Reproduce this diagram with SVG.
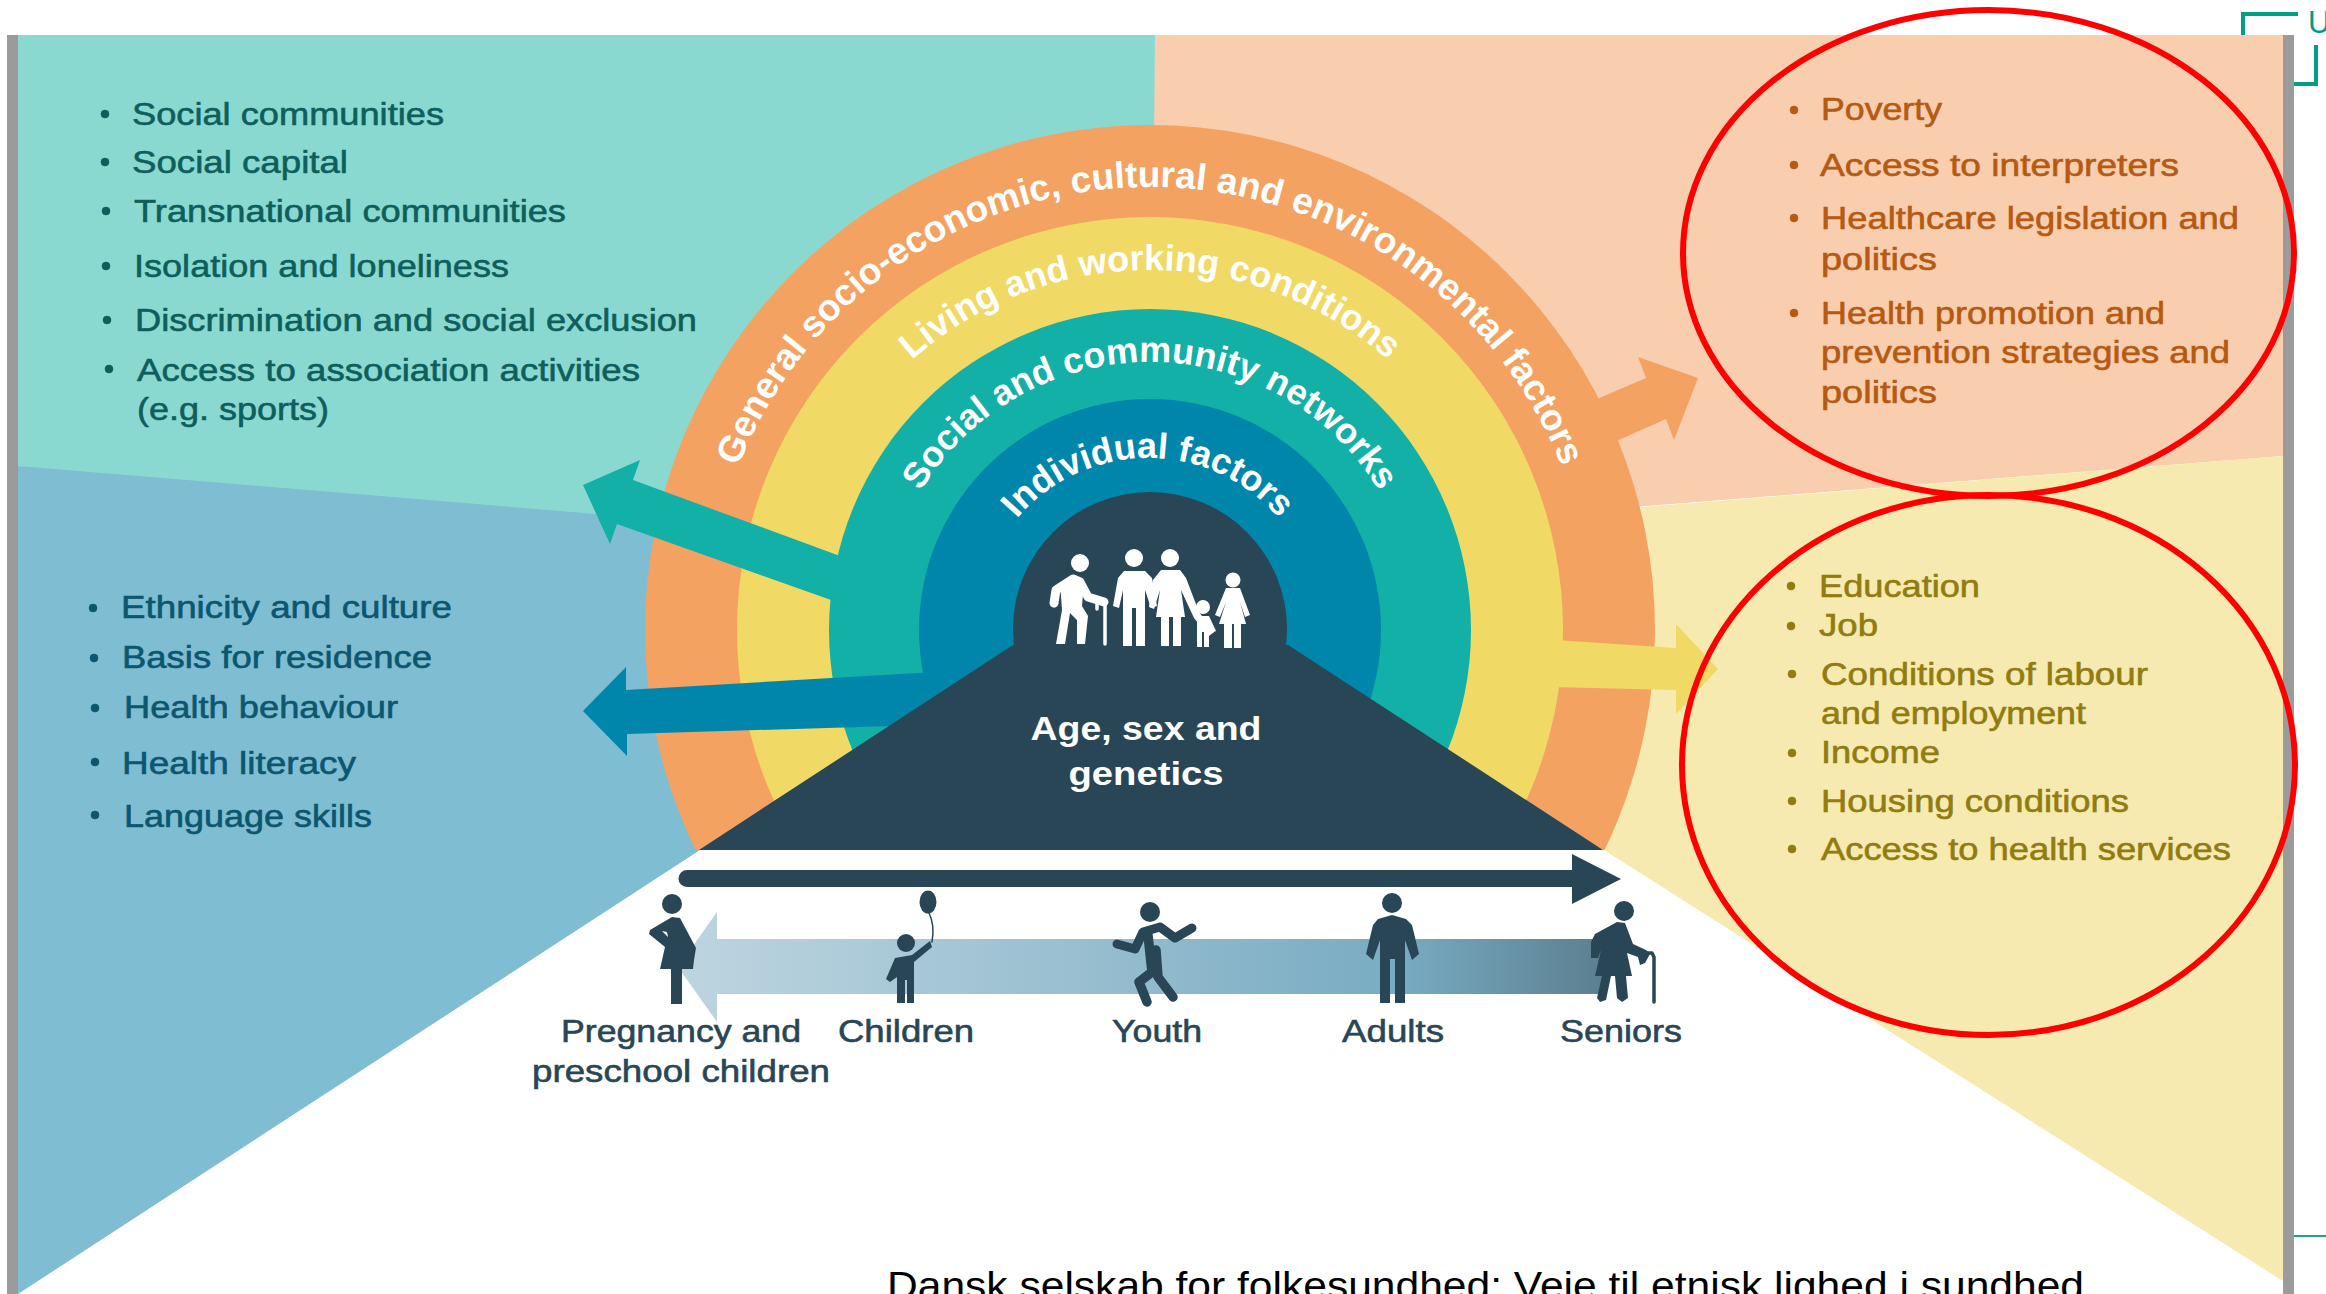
<svg xmlns="http://www.w3.org/2000/svg" width="2326" height="1294" viewBox="0 0 2326 1294">
<style>
text{font-family:"Liberation Sans",Arial,sans-serif;font-size:32px}
.tl{fill:#0E5F5C;stroke:#0E5F5C;stroke-width:.6}
.bl{fill:#0C566F;stroke:#0C566F;stroke-width:.6}
.or{fill:#B65A12;stroke:#B65A12;stroke-width:.6}
.ye{fill:#917C10;stroke:#917C10;stroke-width:.6}
.dk{fill:#284655;stroke:#284655;stroke-width:.6}
.arc{fill:#fff;font-weight:bold;text-anchor:middle}
.ctr{fill:#fff;font-weight:bold;font-size:34px;text-anchor:middle}
.fig{fill:#284655}
.figs{fill:none;stroke:#284655;stroke-linecap:round;stroke-linejoin:round}
.wf{fill:#fff}
.ws{fill:none;stroke:#fff;stroke-linecap:round;stroke-linejoin:round}
.brk{fill:none;stroke:#009E85;stroke-width:4}
.red{fill:none;stroke:#FF0000;stroke-width:6}
</style>
<defs>
<linearGradient id="fade" gradientUnits="userSpaceOnUse" x1="678" y1="0" x2="1604" y2="0">
<stop offset="0" stop-color="#BDD5E0"/><stop offset=".35" stop-color="#A0C3D3"/><stop offset=".78" stop-color="#78ABC2"/><stop offset="1" stop-color="#5B7F90"/>
</linearGradient>
<clipPath id="above"><rect x="0" y="0" width="2326" height="850"/></clipPath>
<path id="a1" d="M707 630A443 443 0 0 1 1593 630"/>
<path id="a2" d="M790 630A360 360 0 0 1 1510 630"/>
<path id="a3" d="M882 630A268 268 0 0 1 1418 630"/>
<path id="a4" d="M976 630A172 172 0 0 1 1320 630"/>
</defs>
<rect width="2326" height="1294" fill="#fff"/>
<g id="backgrounds">
<polygon points="18,35 1155,35 1155,630 18,466" fill="#8AD9D1"/>
<polygon points="18,466 1150,560 1150,630 700,850 18,1294" fill="#7FBDD2"/>
<polygon points="1155,35 2283,35 2283,456 1150,545" fill="#F8CEAF"/>
<polygon points="1642,507 2283,456 2283,1281 1604,850 1500,700" fill="#F6EAB0"/>
</g>
<g id="frame">
<path class="brk" d="M2243 35V14H2298M2316 45V84H2294"/>
<text x="2308" y="33" style="font-size:31px;fill:#009E85">U</text>
<rect x="7" y="35" width="11" height="1259" fill="#9B9B9B"/>
<rect x="2283" y="35" width="11" height="1259" fill="#9B9B9B"/>
<rect x="2294" y="1235" width="32" height="2" fill="#12A88F"/>
</g>
<g id="rings" clip-path="url(#above)">
<circle cx="1150" cy="630" r="505" fill="#F4A261"/>
<circle cx="1150" cy="630" r="413" fill="#F0DA65"/>
<circle cx="1150" cy="630" r="321" fill="#12B0A6"/>
<circle cx="1150" cy="630" r="231" fill="#0086AB"/>
<circle cx="1150" cy="629" r="137" fill="#284655"/>
</g>
<g id="connectors">
<polygon points="583,485 640,460 633,480 840,556 831,600 617,524 610,544" fill="#12B0A6"/>
<polygon points="583,711 626,667 626,690 935,672 925,725 627,734 627,756" fill="#0086AB"/>
<polygon points="1698,378 1638,357 1646,378 1590,402 1612,443 1666,419 1674,440" fill="#F4A261"/>
<polygon points="1718,669 1676,624 1676,648 1555,640 1552,687 1676,690 1676,714" fill="#F0DA65"/>
<polygon points="678,967 717,912 717,939 1604,939 1604,994 717,994 717,1022" fill="url(#fade)"/>
<path d="M687 870H1572V854L1621 879L1572 904V887H687A8.500 8.500 0 0 1 687 870Z" fill="#284655"/>
</g>
<g id="pyramid">
<polygon points="1013,645 1288,645 1603,850 699,850" fill="#284655"/>
<text class="ctr" x="1146" y="740" textLength="231" lengthAdjust="spacingAndGlyphs">Age, sex and</text>
<text class="ctr" x="1146" y="785" textLength="155" lengthAdjust="spacingAndGlyphs">genetics</text>
</g>
<g id="ring-labels">
<text class="arc" style="font-size:37px"><textPath href="#a1" startOffset="50%">General socio-economic, cultural and environmental factors</textPath></text>
<text class="arc" style="font-size:36px"><textPath href="#a2" startOffset="50%">Living and working conditions</textPath></text>
<text class="arc" style="font-size:36px"><textPath href="#a3" startOffset="50%">Social and community networks</textPath></text>
<text class="arc" style="font-size:36px"><textPath href="#a4" startOffset="50%">Individual factors</textPath></text>
</g>
<g id="family">
<circle class="wf" cx="1080" cy="563" r="9"/>
<path class="ws" stroke-width="9" d="M1054 603L1056 590L1073 579L1080 582L1088 597L1104 602"/>
<path class="wf" d="M1060 582L1084 582L1082 606L1088 616L1085 644L1077 644L1077 620L1070 613L1065 644L1056 644L1062 610Z"/>
<path class="ws" stroke-width="3.500" d="M1097 609V604Q1100 601 1105 603V644"/>
<circle class="wf" cx="1134" cy="558" r="9"/>
<path class="wf" d="M1124 571H1145L1152 578L1157 606L1151 608L1145 590V646H1136V608H1132V646H1123V590L1119 608L1113 606L1118 578Z"/>
<circle class="wf" cx="1170" cy="558" r="9"/>
<path class="wf" d="M1161 570H1180L1186 578L1199 612L1214 632L1209 636L1194 618L1181 590L1185 617H1181V646H1173V617H1169V646H1161V617H1156L1160 590L1154 609L1149 607L1153 580Z"/>
<circle class="wf" cx="1203" cy="607" r="7"/>
<path class="wf" d="M1197 616H1209L1216 631L1212 633L1209 628V647H1204V632H1202V647H1197Z"/>
<circle class="wf" cx="1233" cy="580" r="7.500"/>
<path class="wf" d="M1226 588H1240L1250 615L1245 617L1240 602L1246 624H1241V648H1234V624H1232V648H1224V624H1219L1226 602L1220 617L1215 615Z"/>
</g>
<g id="pregnant">
<circle class="fig" cx="672" cy="904" r="10"/>
<path class="fig" d="M672 917L680 918L688 933L696 948L694 960L693 969H682V1004H671V969H660L665 947L649 934L650 930ZM662 931L668 937L667 932Z"/>
</g>
<g id="child">
<ellipse class="fig" cx="928" cy="902" rx="8.500" ry="11.500"/>
<path class="figs" stroke-width="1.500" d="M929 913Q935 925 932 942"/>
<circle class="fig" cx="906" cy="943" r="9"/>
<path class="fig" d="M930 941L932 947L914 962V1003H907V980H905V1003H897V977L890 982L886 979L895 958L912 955Z"/>
</g>
<g id="youth">
<circle class="fig" cx="1150" cy="912" r="10"/>
<path class="figs" stroke-width="9" d="M1117 944L1135 949L1143 932L1160 927L1175 938L1192 928"/>
<path class="figs" stroke-width="9.500" d="M1148 935L1152 972L1139 982L1147 1002M1156 950L1158 977L1173 997"/>
</g>
<g id="adult">
<circle class="fig" cx="1392" cy="903" r="10"/>
<path class="fig" d="M1378 919L1392 915L1406 919L1412 925L1419 954L1412 960L1405 940V1003H1395V959H1390V1003H1380V940L1373 960L1366 954L1373 925Z"/>
</g>
<g id="senior">
<circle class="fig" cx="1624" cy="911" r="10"/>
<path class="fig" d="M1617 922L1625 923L1633 944L1646 950L1650 954L1645 963L1640 965L1638 957L1627 953L1632 976H1626L1628 998L1622 1002L1617 998L1615 976H1611L1606 1000L1600 1002L1597 998L1602 976H1595L1601 950L1598 958L1591 958L1591 942L1595 934Z"/>
<path class="figs" stroke-width="3.500" d="M1644 953H1652L1654 957V1002"/>
</g>
<g id="list-social">
<circle class="tl" cx="105" cy="114" r="4"/><text class="tl" x="132" y="125" textLength="312" lengthAdjust="spacingAndGlyphs">Social communities</text>
<circle class="tl" cx="105" cy="162" r="4"/><text class="tl" x="132" y="173" textLength="216" lengthAdjust="spacingAndGlyphs">Social capital</text>
<circle class="tl" cx="106" cy="211" r="4"/><text class="tl" x="134" y="222" textLength="432" lengthAdjust="spacingAndGlyphs">Transnational communities</text>
<circle class="tl" cx="106" cy="266" r="4"/><text class="tl" x="134" y="277" textLength="375" lengthAdjust="spacingAndGlyphs">Isolation and loneliness</text>
<circle class="tl" cx="107" cy="320" r="4"/><text class="tl" x="135" y="331" textLength="562" lengthAdjust="spacingAndGlyphs">Discrimination and social exclusion</text>
<circle class="tl" cx="109" cy="369" r="4"/><text class="tl" x="137" y="381" textLength="503" lengthAdjust="spacingAndGlyphs">Access to association activities</text>
<text class="tl" x="137" y="420" textLength="192" lengthAdjust="spacingAndGlyphs">(e.g. sports)</text>
</g>
<g id="list-individual">
<circle class="bl" cx="93" cy="608" r="4"/><text class="bl" x="121" y="618" textLength="331" lengthAdjust="spacingAndGlyphs">Ethnicity and culture</text>
<circle class="bl" cx="94" cy="658" r="4"/><text class="bl" x="122" y="668" textLength="310" lengthAdjust="spacingAndGlyphs">Basis for residence</text>
<circle class="bl" cx="95" cy="708" r="4"/><text class="bl" x="124" y="718" textLength="274" lengthAdjust="spacingAndGlyphs">Health behaviour</text>
<circle class="bl" cx="95" cy="762" r="4"/><text class="bl" x="122" y="774" textLength="234" lengthAdjust="spacingAndGlyphs">Health literacy</text>
<circle class="bl" cx="95" cy="815" r="4"/><text class="bl" x="124" y="827" textLength="248" lengthAdjust="spacingAndGlyphs">Language skills</text>
</g>
<g id="list-general">
<circle class="or" cx="1794" cy="110" r="4"/><text class="or" x="1821" y="120" textLength="121" lengthAdjust="spacingAndGlyphs">Poverty</text>
<circle class="or" cx="1794" cy="165" r="4"/><text class="or" x="1820" y="176" textLength="359" lengthAdjust="spacingAndGlyphs">Access to interpreters</text>
<circle class="or" cx="1794" cy="218" r="4"/><text class="or" x="1821" y="229" textLength="418" lengthAdjust="spacingAndGlyphs">Healthcare legislation and</text>
<text class="or" x="1821" y="270" textLength="116" lengthAdjust="spacingAndGlyphs">politics</text>
<circle class="or" cx="1794" cy="313" r="4"/><text class="or" x="1821" y="324" textLength="344" lengthAdjust="spacingAndGlyphs">Health promotion and</text>
<text class="or" x="1821" y="363" textLength="409" lengthAdjust="spacingAndGlyphs">prevention strategies and</text>
<text class="or" x="1821" y="403" textLength="116" lengthAdjust="spacingAndGlyphs">politics</text>
</g>
<g id="list-living">
<circle class="ye" cx="1791" cy="586" r="4"/><text class="ye" x="1819" y="597" textLength="161" lengthAdjust="spacingAndGlyphs">Education</text>
<circle class="ye" cx="1791" cy="626" r="4"/><text class="ye" x="1819" y="636" textLength="59" lengthAdjust="spacingAndGlyphs">Job</text>
<circle class="ye" cx="1792" cy="674" r="4"/><text class="ye" x="1821" y="685" textLength="327" lengthAdjust="spacingAndGlyphs">Conditions of labour</text>
<text class="ye" x="1821" y="724" textLength="265" lengthAdjust="spacingAndGlyphs">and employment</text>
<circle class="ye" cx="1792" cy="753" r="4"/><text class="ye" x="1821" y="763" textLength="119" lengthAdjust="spacingAndGlyphs">Income</text>
<circle class="ye" cx="1792" cy="801" r="4"/><text class="ye" x="1821" y="812" textLength="308" lengthAdjust="spacingAndGlyphs">Housing conditions</text>
<circle class="ye" cx="1792" cy="849" r="4"/><text class="ye" x="1821" y="860" textLength="410" lengthAdjust="spacingAndGlyphs">Access to health services</text>
</g>
<g id="age-labels">
<text class="dk" x="561" y="1042" textLength="240" lengthAdjust="spacingAndGlyphs">Pregnancy and</text>
<text class="dk" x="532" y="1082" textLength="298" lengthAdjust="spacingAndGlyphs">preschool children</text>
<text class="dk" x="838" y="1042" textLength="136" lengthAdjust="spacingAndGlyphs">Children</text>
<text class="dk" x="1112" y="1042" textLength="90" lengthAdjust="spacingAndGlyphs">Youth</text>
<text class="dk" x="1342" y="1042" textLength="102" lengthAdjust="spacingAndGlyphs">Adults</text>
<text class="dk" x="1560" y="1042" textLength="122" lengthAdjust="spacingAndGlyphs">Seniors</text>
</g>
<g id="highlights">
<ellipse class="red" cx="1988.500" cy="253" rx="305.500" ry="243"/>
<ellipse class="red" cx="1988.500" cy="765" rx="306.500" ry="270"/>
</g>
<text id="caption" x="887" y="1299" textLength="1197" lengthAdjust="spacingAndGlyphs" style="font-size:38px;fill:#000">Dansk selskab for folkesundhed: Veje til etnisk lighed i sundhed</text>
</svg>
